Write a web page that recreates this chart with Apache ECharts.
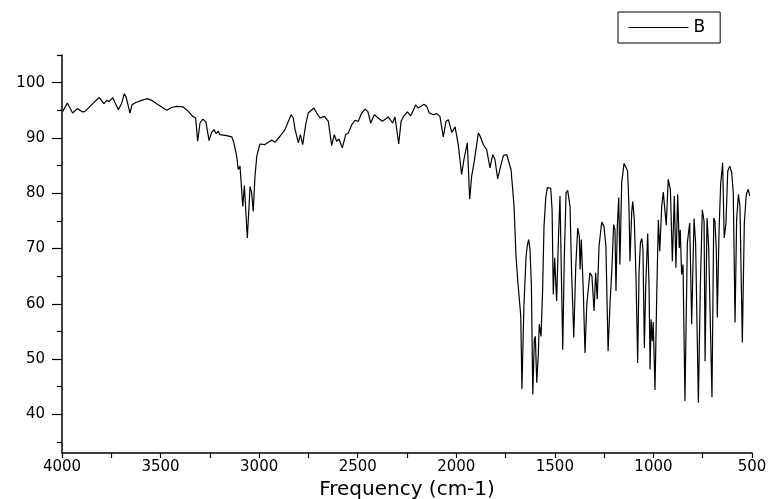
<!DOCTYPE html>
<html>
<head>
<meta charset="utf-8">
<script src="https://cdn.jsdelivr.net/npm/echarts@6/dist/echarts.min.js"></script>
<style>
html,body{margin:0;padding:0;background:#fff;}
#chart{width:773px;height:499px;}
</style>
</head>
<body>
<div id="chart"></div>
<script>
var seriesName = 'B';
var xTitle = 'Frequency (cm-1)';
var yLabelValues = [40, 50, 60, 70, 80, 90, 100];
var yMinorTickValues = [35, 45, 55, 65, 75, 85, 95, 105];
var wavenumber = [
3996,3973,3946,3922,3895,3883,3858,3833,3811,3787,3773,3760,3743,3714,3697,3684,3675,3665,3655,3645,
3625,3596,3567,3545,3520,3494,3469,3444,3418,3385,3359,3337,3322,3312,3300,3286,3270,3254,3241,3229,
3219,3207,3199,3165,3139,3128,3114,3106,3097,3083,3075,3070,3060,3046,3038,3030,3021,3012,2996,2970,
2954,2935,2920,2894,2869,2838,2827,2818,2801,2791,2779,2764,2751,2742,2722,2708,2691,2669,2649,2641,
2632,2619,2607,2595,2578,2561,2548,2530,2514,2497,2480,2463,2449,2434,2416,2396,2375,2345,2323,2311,
2292,2280,2269,2248,2231,2206,2193,2181,2164,2150,2137,2117,2099,2083,2066,2052,2040,2023,2006,1990,
1973,1961,1944,1932,1922,1910,1888,1880,1863,1846,1829,1815,1804,1790,1775,1761,1744,1736,1722,1707,
1697,1688,1680,1673,1667,1657,1646,1640,1633,1626,1619,1612,1604,1599,1592,1584,1579,1570,1562,1555,
1546,1538,1528,1521,1514,1508,1501,1491,1482,1474,1467,1460,1452,1443,1435,1423,1415,1404,1394,1384,
1376,1372,1366,1356,1347,1338,1330,1322,1312,1301,1293,1285,1276,1262,1251,1241,1230,1220,1210,1202,
1195,1190,1183,1176,1170,1161,1149,1139,1131,1124,1119,1110,1105,1097,1088,1080,1073,1066,1059,1053,
1046,1039,1029,1022,1017,1012,1006,1001,992,983,975,968,958,950,935,925,914,904,894,886,
877,869,864,857,850,840,828,816,806,794,786,772,762,752,743,738,728,720,703,694,
688,681,676,667,659,649,641,632,623,613,603,595,586,578,569,561,549,539,529,519,
512
];
var transmittance = [
94.8,96.3,94.5,95.3,94.7,94.8,95.7,96.6,97.3,96.2,96.8,96.6,97.3,95.1,96.3,98.0,97.4,97.5,94.5,96.0,
96.4,96.8,97.1,96.8,96.2,95.6,95.0,95.5,95.7,95.6,94.8,93.9,93.6,89.4,92.7,93.4,92.9,89.5,91.0,91.5,
90.8,91.2,90.6,90.4,90.2,89.1,86.7,84.3,84.9,77.6,81.4,81.2,71.9,81.2,80.1,76.7,83.1,86.7,88.9,88.8,
89.2,89.6,89.2,90.3,91.5,94.2,93.6,91.6,89.1,90.6,88.8,92.4,94.5,94.8,95.4,94.5,93.6,93.9,93.0,90.9,
88.6,90.6,89.4,89.8,88.2,90.6,90.9,92.4,93.2,93.0,94.5,95.2,94.8,92.7,94.2,93.6,93.0,93.8,92.7,93.8,
88.9,93.0,93.8,94.7,94.0,96.0,95.4,95.7,96.1,95.7,94.5,94.2,94.4,93.9,90.2,93.0,93.3,91.0,92.0,88.8,
83.4,86.1,89.1,78.9,83.1,85.5,90.9,90.4,88.8,87.9,84.6,87.0,86.1,82.6,84.9,86.8,87.0,87.2,84.2,77.6,
68.6,64.1,63.9,57.8,44.6,59.6,68.6,70.5,71.6,69.8,63.2,43.6,53.6,54.1,45.7,50.8,56.3,54.1,62.6,74.0,
79.2,81.0,81.3,80.9,77.0,61.7,68.3,60.5,71.6,79.5,79.5,51.7,68.6,80.1,80.5,77.6,65.6,53.9,66.8,73.7,
72.2,66.2,71.6,62.6,51.1,59.9,60.2,65.6,65.0,58.7,65.6,60.8,70.4,74.8,74.0,70.4,51.4,60.2,66.8,74.3,
73.4,62.3,74.0,79.2,67.1,81.9,85.4,85.5,84.0,77.6,67.7,76.7,78.5,75.2,64.4,49.3,65.6,71.0,71.8,69.8,
52.0,63.2,72.7,62.6,48.1,57.2,53.2,56.7,44.4,62.0,75.2,69.5,77.6,80.2,74.2,82.5,80.7,67.7,79.5,66.5,
79.8,70.1,73.4,65.3,67.1,42.4,71.0,74.6,56.3,75.4,71.0,42.1,63.2,77.0,74.9,49.6,75.5,70.4,43.1,75.5,
74.9,69.8,57.5,73.4,81.6,85.5,71.9,74.6,84.0,84.9,83.7,80.1,56.6,75.2,79.8,77.6,53.0,74.6,79.8,80.7,
79.5
];

var points = wavenumber.map(function (w, i) { return [w, transmittance[i]]; });
var FONT = 'DejaVu Sans';
var chart = echarts.init(document.getElementById('chart'), null, {renderer: 'canvas'});
chart.setOption({
  backgroundColor: '#ffffff',
  animation: false,
  grid: {left: 62, right: 21, top: 55, bottom: 46, containLabel: false, outerBoundsMode: 'none'},
  legend: {
    data: [seriesName],
    left: 618, top: 12,
    borderColor: '#000', borderWidth: 1, borderRadius: 0,
    padding: [7, 15, 7, 10],
    itemWidth: 60, itemHeight: 12,
    itemStyle: {color: 'rgba(0,0,0,0)', borderWidth: 0, opacity: 0},
    lineStyle: {color: '#000', width: 1},
    textStyle: {fontFamily: FONT, fontSize: 17, color: '#000'}
  },
  xAxis: {
    type: 'value', min: 500, max: 4000, interval: 250, inverse: true,
    name: xTitle, nameLocation: 'middle', nameGap: 23,
    nameTextStyle: {fontFamily: FONT, fontSize: 20, color: '#000'},
    axisLine: {show: true, lineStyle: {color: '#000', width: 1.5}},
    axisTick: {show: true, length: 5, lineStyle: {color: '#000', width: 1.2}},
    axisLabel: {
      fontFamily: FONT, fontSize: 15, color: '#000', margin: 7,
      formatter: function (v) { return v % 500 === 0 ? String(v) : ''; }
    },
    splitLine: {show: false}
  },
  yAxis: [{
    type: 'value', min: 33, max: 105,
    axisLine: {show: true, onZero: false, lineStyle: {color: '#000', width: 1.5}},
    axisTick: {show: true, length: 10, customValues: yLabelValues, lineStyle: {color: '#000', width: 1.2}},
    axisLabel: {fontFamily: FONT, fontSize: 15, color: '#000', margin: 17, customValues: yLabelValues},
    splitLine: {show: false}
  }, {
    type: 'value', min: 33, max: 105, position: 'left',
    axisLine: {show: false},
    axisTick: {show: true, length: 5, customValues: yMinorTickValues, lineStyle: {color: '#000', width: 1.2}},
    axisLabel: {show: false},
    splitLine: {show: false}
  }],
  series: [{
    name: seriesName, type: 'line', data: points,
    symbol: 'none', smooth: false,
    lineStyle: {color: '#000', width: 1.2},
    itemStyle: {color: '#000'}
  }]
});
</script>
</body>
</html>
